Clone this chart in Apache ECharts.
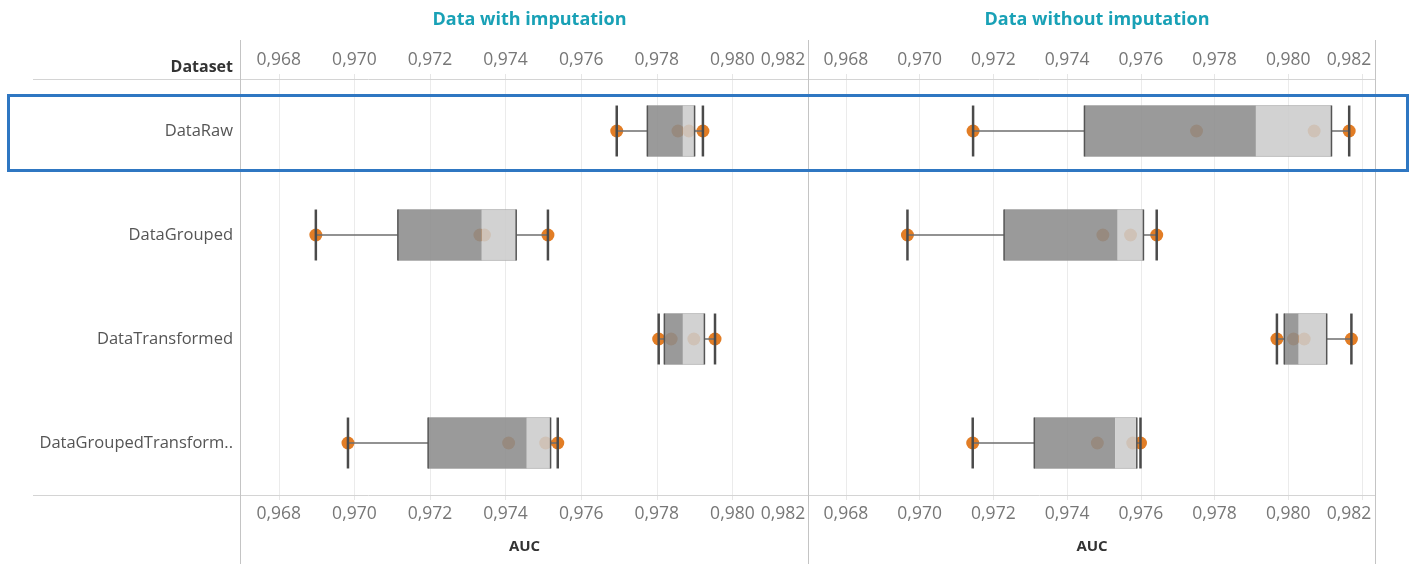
<!DOCTYPE html>
<html><head><meta charset="utf-8">
<script src="https://cdn.jsdelivr.net/npm/echarts@6/dist/echarts.min.js"></script>
<style>html,body{margin:0;padding:0;background:#fff}#c{width:1413px;height:564px}</style>
</head><body><div id="c"></div>
<script>
const categories = ['DataRaw', 'DataGrouped', 'DataTransformed', 'DataGroupedTransform..'];
const panelTitles = ['Data with imputation', 'Data without imputation'];
const rowHeader = 'Dataset';
const axisName = 'AUC';
const tickValues = [0.968, 0.970, 0.972, 0.974, 0.976, 0.978, 0.980, 0.982];
const axisRanges = [[0.967, 0.982], [0.967, 0.98235]];
// box stats per row: [min, q1, median, q3, max]
const boxWith = [
  [0.97694, 0.97775, 0.97869, 0.97900, 0.97922],
  [0.96898, 0.97115, 0.97337, 0.97428, 0.97512],
  [0.97805, 0.97820, 0.97869, 0.97926, 0.97954],
  [0.96983, 0.97195, 0.97456, 0.97519, 0.97538]
];
const boxWithout = [
  [0.97145, 0.97447, 0.97912, 0.98117, 0.98165],
  [0.96967, 0.97229, 0.97537, 0.97607, 0.97643],
  [0.97969, 0.97989, 0.98028, 0.98104, 0.98171],
  [0.97144, 0.97311, 0.97530, 0.97589, 0.97599]
];
// individual AUC points per row
const pointsWith = [
  [0.97694, 0.97856, 0.97885, 0.97922],
  [0.96898, 0.97332, 0.97344, 0.97512],
  [0.97805, 0.97838, 0.97898, 0.97954],
  [0.96983, 0.97408, 0.97506, 0.97538]
];
const pointsWithout = [
  [0.97145, 0.97751, 0.98070, 0.98165],
  [0.96967, 0.97497, 0.97572, 0.97643],
  [0.97969, 0.98014, 0.98043, 0.98171],
  [0.97144, 0.97482, 0.97578, 0.97599]
];

const FONT = 'Open Sans';
const chart = echarts.init(document.getElementById('c'), null, {renderer: 'canvas'});

const grids = [
  {left: 241, top: 79, width: 567, height: 416},
  {left: 809, top: 79, width: 566, height: 416}
];
const lastPad = [50, 26];

function fmt(i) {
  return function (v) {
    const s = v.toFixed(3).replace('.', ',');
    if (Math.abs(v - 0.982) < 1e-9) return '{e|' + s + '}';
    return s;
  };
}

function xAxisFor(i, pos) {
  return {
    type: 'value', gridIndex: i, position: pos,
    min: axisRanges[i][0], max: axisRanges[i][1], interval: 0.001,
    axisLine: {show: false},
    axisTick: {show: true, length: 5, inside: false, customValues: tickValues, lineStyle: {color: '#e6e6e6'}},
    axisLabel: {
      customValues: tickValues, formatter: fmt(i),
      color: '#777', fontFamily: FONT, fontSize: 17.5, margin: pos === 'top' ? 10 : 10,
      rich: {e: {color: '#777', fontFamily: FONT, fontSize: 17.5, padding: [0, lastPad[i], 0, 0]}}
    },
    splitLine: {show: pos === 'bottom', lineStyle: {color: '#ebebeb', width: 1}},
    name: pos === 'bottom' ? axisName : '',
    nameLocation: 'middle', nameGap: 44,
    nameTextStyle: {color: '#333', fontFamily: FONT, fontWeight: 'bold', fontSize: 15}
  };
}

function renderBox(params, api) {
  const cat = api.value(0);
  const pMin = api.coord([api.value(1), cat]);
  const pQ1 = api.coord([api.value(2), cat]);
  const pMed = api.coord([api.value(3), cat]);
  const pQ3 = api.coord([api.value(4), cat]);
  const pMax = api.coord([api.value(5), cat]);
  const band = api.size([0, 1])[1];
  const h = band * 0.49;
  const y = pMin[1];
  const top = y - h / 2, bot = y + h / 2;
  return {
    type: 'group', children: [
      {type: 'line', shape: {x1: pMin[0], y1: y, x2: pQ1[0], y2: y}, style: {stroke: '#6e6e6e', lineWidth: 1.5}},
      {type: 'line', shape: {x1: pQ3[0], y1: y, x2: pMax[0], y2: y}, style: {stroke: '#6e6e6e', lineWidth: 1.5}},
      {type: 'rect', shape: {x: pQ1[0], y: top, width: pMed[0] - pQ1[0], height: h}, style: {fill: 'rgba(140,140,140,0.88)'}},
      {type: 'rect', shape: {x: pMed[0], y: top, width: pQ3[0] - pMed[0], height: h}, style: {fill: 'rgba(204,204,204,0.88)'}},
      {type: 'line', shape: {x1: pQ1[0], y1: top, x2: pQ3[0], y2: top}, style: {stroke: 'rgba(160,160,160,0.5)', lineWidth: 1}},
      {type: 'line', shape: {x1: pQ1[0], y1: bot, x2: pQ3[0], y2: bot}, style: {stroke: 'rgba(160,160,160,0.5)', lineWidth: 1}},
      {type: 'line', shape: {x1: pQ1[0], y1: top, x2: pQ1[0], y2: bot}, style: {stroke: '#555', lineWidth: 1.5}},
      {type: 'line', shape: {x1: pQ3[0], y1: top, x2: pQ3[0], y2: bot}, style: {stroke: '#555', lineWidth: 1.5}},
      {type: 'line', shape: {x1: pMin[0], y1: top, x2: pMin[0], y2: bot}, style: {stroke: '#4a4a4a', lineWidth: 2.5}},
      {type: 'line', shape: {x1: pMax[0], y1: top, x2: pMax[0], y2: bot}, style: {stroke: '#4a4a4a', lineWidth: 2.5}}
    ]
  };
}

const boxes = [boxWith, boxWithout];
const points = [pointsWith, pointsWithout];
const series = [];
[0, 1].forEach(function (i) {
  const pts = [];
  points[i].forEach(function (row, r) { row.forEach(function (v) { pts.push([v, r]); }); });
  series.push({
    type: 'scatter', xAxisIndex: i * 2, yAxisIndex: i, data: pts,
    symbolSize: 13, itemStyle: {color: '#e27d25', opacity: 1}, z: 2, silent: true
  });
  series.push({
    type: 'custom', xAxisIndex: i * 2, yAxisIndex: i,
    data: boxes[i].map(function (b, r) { return [r].concat(b); }),
    encode: {x: [1, 2, 3, 4, 5], y: 0},
    renderItem: renderBox, z: 3, silent: true
  });
});

const option = {
  animation: false,
  backgroundColor: '#fff',
  title: panelTitles.map(function (t, i) {
    return {
      text: t, left: grids[i].left + grids[i].width / 2, top: 6, textAlign: 'center',
      textStyle: {color: '#19a1b6', fontFamily: FONT, fontWeight: 'bold', fontSize: 18}
    };
  }),
  grid: grids,
  xAxis: [xAxisFor(0, 'bottom'), xAxisFor(0, 'top'), xAxisFor(1, 'bottom'), xAxisFor(1, 'top')],
  yAxis: [0, 1].map(function (i) {
    return {
      type: 'category', gridIndex: i, data: categories, inverse: true,
      axisLine: {show: false}, axisTick: {show: false}, splitLine: {show: false},
      axisLabel: {show: i === 0, color: '#555', fontFamily: FONT, fontSize: 16.5, margin: 8, align: 'right'}
    };
  }),
  series: series,
  graphic: [
    {type: 'line', shape: {x1: 33, y1: 79.5, x2: 1375, y2: 79.5}, style: {stroke: '#d4d4d4', lineWidth: 1}, z: 1},
    {type: 'line', shape: {x1: 33, y1: 495.5, x2: 1375, y2: 495.5}, style: {stroke: '#d4d4d4', lineWidth: 1}, z: 1},
    {type: 'line', shape: {x1: 240.5, y1: 40, x2: 240.5, y2: 564}, style: {stroke: '#c4c4c4', lineWidth: 1}, z: 1},
    {type: 'line', shape: {x1: 808.5, y1: 40, x2: 808.5, y2: 564}, style: {stroke: '#c4c4c4', lineWidth: 1}, z: 1},
    {type: 'line', shape: {x1: 1375.5, y1: 40, x2: 1375.5, y2: 564}, style: {stroke: '#c4c4c4', lineWidth: 1}, z: 1},
    {type: 'text', x: 233, y: 67, style: {text: rowHeader, align: 'right', verticalAlign: 'middle', fill: '#333', fontFamily: FONT, fontWeight: 'bold', fontSize: 16}},
    {type: 'rect', shape: {x: 8.5, y: 95.5, width: 1399, height: 75}, style: {fill: 'none', stroke: '#2f77c2', lineWidth: 3}, z: 10}
  ]
};
chart.setOption(option);
</script>
</body></html>
